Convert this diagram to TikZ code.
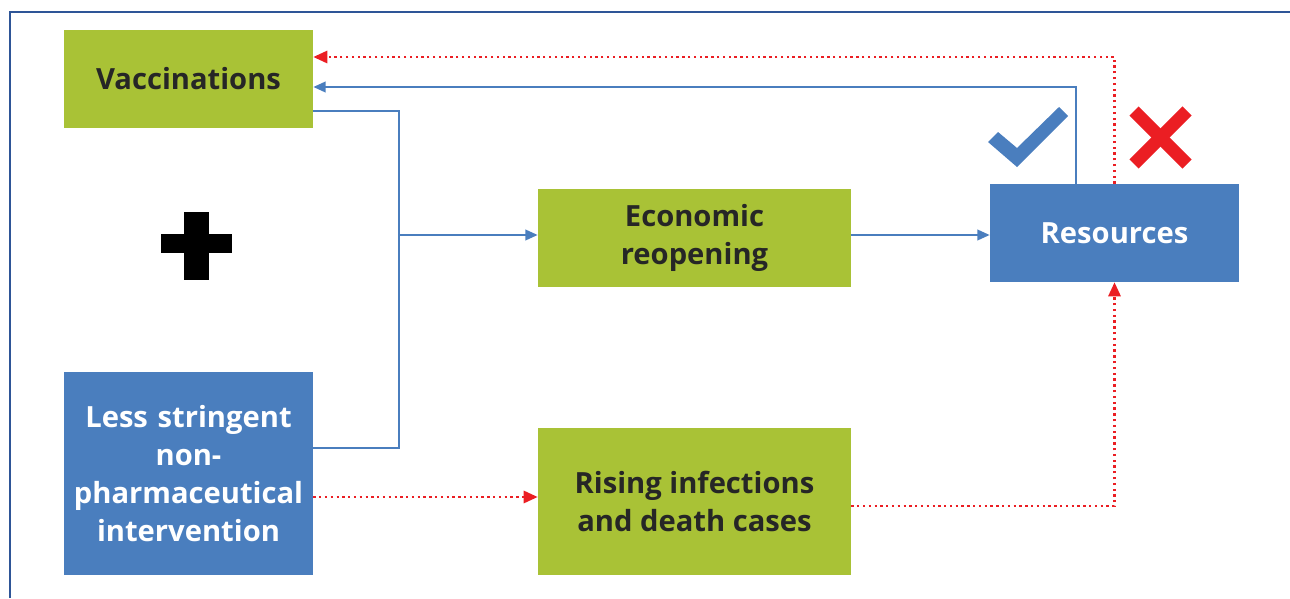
\documentclass[tikz,border=0pt]{standalone}
\usepackage{fontspec}
\setmainfont{Open Sans}
\usepackage{tikz}
\usetikzlibrary{arrows.meta,positioning}
\definecolor{vgreen}{RGB}{169,194,54}
\definecolor{rblue}{RGB}{74,126,190}
\definecolor{fblue}{RGB}{46,85,151}
\definecolor{xred}{RGB}{235,30,35}
\tikzstyle{box} = [inner sep=0pt, align=center, font=\fontsize{16.6}{21.5}\selectfont\bfseries]
\tikzstyle{greenbox} = [box, fill=vgreen, text=black!85]
\tikzstyle{bluebox} = [box, fill=rblue, text=white]
\tikzstyle{link} = [line width=1.2pt, color=rblue, -{Triangle[length=7pt,width=6pt]}]
\tikzstyle{risk} = [line width=1.3pt, color=xred, dotted, -{Triangle[length=8pt,width=7pt]}]

\begin{document}
\begin{tikzpicture}[x=0.02cm, y=-0.02cm]
    \useasboundingbox (0,0) rectangle (1290,598);

    % Frame
    \draw[fblue, line width=1.4pt] (10,598) -- (10,12) -- (1290,12);

    % Boxes
    \node[greenbox, minimum width=4.98cm, minimum height=1.96cm] (vacc) at (188.5,79) {\raisebox{-2pt}{Vaccinations}};
    \node[bluebox, minimum width=4.98cm, minimum height=4.06cm, text width=4.7cm] (npi) at (188.5,473.5) {Less stringent\\non-\\pharmaceutical\\intervention};
    \node[greenbox, minimum width=6.26cm, minimum height=1.96cm] (econ) at (694.5,238) {Economic\\reopening};
    \node[greenbox, minimum width=6.26cm, minimum height=2.94cm] (rise) at (694.5,501.5) {Rising infections\\and death cases};
    \node[bluebox, minimum width=4.98cm, minimum height=1.96cm] (res) at (1114.5,233) {\raisebox{-2pt}{Resources}};

    % Plus sign
    \fill[black] (161,234) rectangle (232,253);
    \fill[black] (184,212) rectangle (209,280);

    % Tick and cross
    \fill[rblue] (988,142) -- (1017,167) -- (1068,116) -- (1059,107) -- (1017,148) -- (998,132) -- cycle;
    \draw[xred, line width=0.26cm] (1134,111) -- (1187,164);
    \draw[xred, line width=0.26cm] (1187,111) -- (1134,164);

    % Connectors
    \coordinate (jn) at (399,235);
    \draw[link, -] ([yshift=-0.64cm]vacc.east) -| (jn) |- ([yshift=0.51cm]npi.east);
    \draw[link] (jn) -- (econ.west |- jn);
    \draw[link] (econ.east |- jn) -- (res.west |- jn);
    \draw[link] ([xshift=-0.77cm]res.north) |- ([yshift=-0.16cm]vacc.east);
    \draw[risk] (res.north) |- ([yshift=0.44cm]vacc.east);
    \draw[risk] ([yshift=-0.47cm]npi.east) -- ([yshift=-0.47cm]npi.east -| rise.west);
    \draw[risk] ([yshift=-0.09cm]rise.east) -| (res.south);
\end{tikzpicture}
\end{document}
